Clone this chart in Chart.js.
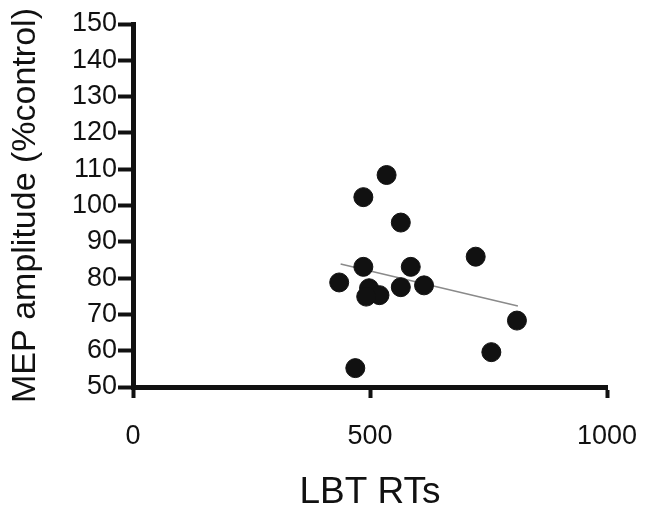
<!DOCTYPE html>
<html>
<head>
<meta charset="utf-8">
<title>MEP amplitude vs LBT RTs</title>
<script src="https://cdn.jsdelivr.net/npm/chart.js@4/dist/chart.umd.min.js"></script>
<style>
  html, body { margin: 0; padding: 0; background: #fff; }
  #wrap { width: 654px; height: 509px; }
</style>
</head>
<body>
<div id="wrap"><canvas id="mepChart"></canvas></div>
<script>
// reaction times (ms) and MEP amplitude (% of control), one pair per subject
const rtValues = [535, 486, 565, 723, 486, 586, 435, 614, 565, 498, 520, 492, 810, 756, 469];
const mepValues = [108.4, 102.3, 95.3, 85.9, 83.1, 83.1, 78.8, 78.0, 77.5, 77.2, 75.3, 74.9, 68.3, 59.6, 55.2];

// linear fit end points
const fitX = [438, 812];
const fitY = [83.9, 72.3];

const yTicks = [50, 60, 70, 80, 90, 100, 110, 120, 130, 140, 150];
const xTicks = [0, 500, 1000];

const ink = "#111";
const fontFamily = "'Liberation Sans', Arial, sans-serif";

const points = rtValues.map((rt, i) => ({ x: rt, y: mepValues[i] }));
const fitLine = fitX.map((x, i) => ({ x: x, y: fitY[i] }));

const ctx = document.getElementById("mepChart");

const mepChart = new Chart(ctx, {
  type: "scatter",
  data: {
    datasets: [
      {
        label: "Subjects",
        data: points,
        order: 1,
        pointRadius: 9.5,
        pointBorderWidth: 1,
        pointBackgroundColor: ink,
        pointBorderColor: ink,
      },
      {
        label: "Fit",
        type: "line",
        data: fitLine,
        order: 2,
        borderColor: "#8a8a8a",
        borderWidth: 1.5,
        pointRadius: 0,
        fill: false,
      },
    ],
  },
  options: {
    responsive: true,
    maintainAspectRatio: false,
    animation: false,
    layout: {
      padding: { left: 0, top: 24, right: 47, bottom: 0 },
    },
    scales: {
      x: {
        type: "linear",
        min: 0,
        max: 1000,
        afterBuildTicks: (scale) => {
          scale.ticks = xTicks.map((v) => ({ value: v }));
        },
        afterFit: (scale) => {
          // fixed band under the plot; end labels may hang into the margins
          scale.height = 122;
          scale.paddingLeft = 0;
          scale.paddingRight = 0;
        },
        grid: {
          drawOnChartArea: false,
          drawTicks: true,
          tickLength: 11,
          tickWidth: 4,
          tickColor: ink,
        },
        border: { color: ink, width: 5 },
        ticks: {
          color: ink,
          padding: 22,
          maxRotation: 0,
          callback: (value) => String(value),
          font: { family: fontFamily, size: 27 },
        },
        title: {
          display: true,
          text: "LBT RTs",
          color: ink,
          padding: { top: 0, bottom: 0 },
          font: { family: fontFamily, size: 37, lineHeight: 0.9 },
        },
      },
      y: {
        type: "linear",
        min: 50,
        max: 150,
        afterBuildTicks: (scale) => {
          scale.ticks = yTicks.map((v) => ({ value: v }));
        },
        afterFit: (scale) => {
          scale.width = 133;
        },
        grid: {
          drawOnChartArea: false,
          drawTicks: true,
          tickLength: 15,
          tickWidth: 4,
          tickColor: ink,
        },
        border: { color: ink, width: 5 },
        ticks: {
          color: ink,
          padding: 1,
          callback: (value) => String(value),
          font: { family: fontFamily, size: 27 },
        },
        title: {
          display: true,
          text: "MEP amplitude (%control)",
          color: ink,
          padding: { top: 9, bottom: 0 },
          font: { family: fontFamily, size: 34, lineHeight: 1 },
        },
      },
    },
    plugins: {
      legend: { display: false },
      tooltip: { enabled: false },
    },
  },
});
</script>
</body>
</html>
